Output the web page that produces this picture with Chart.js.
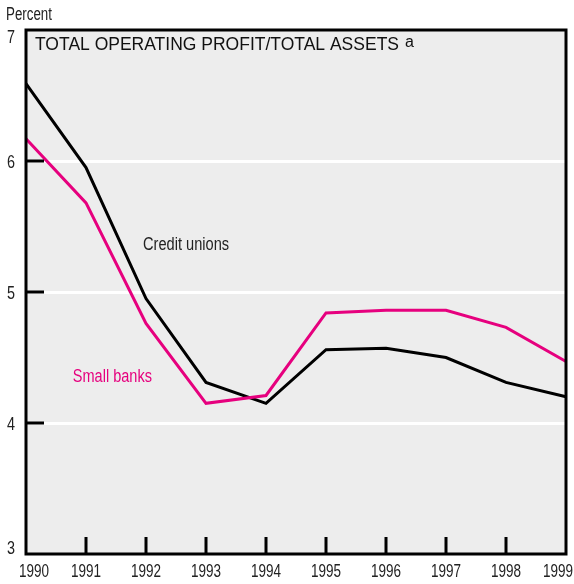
<!DOCTYPE html>
<html>
<head>
<meta charset="utf-8">
<script src="https://cdn.jsdelivr.net/npm/chart.js@4"></script>
<style>
  body { margin: 0; background: #fff; }
  canvas { display: block; }
</style>
</head>
<body>
<canvas id="chart" width="574" height="584"></canvas>
<script>
// --- Data ---
const YEARS = ['1990', '1991', '1992', '1993', '1994', '1995', '1996', '1997', '1998', '1999'];
const CREDIT_UNIONS = [6.59, 5.95, 4.95, 4.31, 4.15, 4.56, 4.57, 4.50, 4.31, 4.20];
const SMALL_BANKS = [6.17, 5.68, 4.76, 4.15, 4.21, 4.84, 4.86, 4.86, 4.73, 4.47];
const Y_MIN = 3;
const Y_MAX = 7;

const SANS = '"Liberation Sans", Arial, sans-serif';
const PINK = '#e6007e';
const TEXT = '#222';

// condensed look: no narrow face is installed, so squeeze Liberation Sans
function narrowText(ctx, text, x, y, size, squeeze, align) {
    ctx.save();
    ctx.font = size + 'px ' + SANS;
    ctx.textAlign = 'left';
    const w = ctx.measureText(text).width * squeeze;
    let left = x;
    if (align === 'center') left = x - w / 2;
    if (align === 'right') left = x - w;
    ctx.translate(left, y);
    ctx.scale(squeeze, 1);
    ctx.fillText(text, 0, 0);
    ctx.restore();
    return w;
}

// Background, frame, inner tick marks, tick labels and in-plot text
const decorPlugin = {
    id: 'decor',
    beforeDraw(chart) {
        const { ctx, chartArea: a } = chart;
        ctx.save();
        ctx.fillStyle = '#ededed';
        ctx.fillRect(a.left, a.top, a.right - a.left, a.bottom - a.top);
        ctx.restore();
    },
    afterDraw(chart) {
        const { ctx, chartArea: a, scales } = chart;
        const x = scales.x, y = scales.y;
        ctx.save();

        // tick marks pointing into the plot
        ctx.strokeStyle = '#000';
        ctx.lineWidth = 3;
        ctx.beginPath();
        y.ticks.forEach(t => {
            if (t.value <= Y_MIN || t.value >= Y_MAX) return;
            const py = Math.round(y.getPixelForValue(t.value));
            ctx.moveTo(a.left, py);
            ctx.lineTo(a.left + 18, py);
        });
        x.ticks.forEach((t, i) => {
            if (i === 0 || i === x.ticks.length - 1) return;
            const px = Math.round(x.getPixelForTick(i));
            ctx.moveTo(px, a.bottom);
            ctx.lineTo(px, a.bottom - 17);
        });
        ctx.stroke();

        // frame
        ctx.strokeRect(a.left, a.top, a.right - a.left, a.bottom - a.top);

        // tick labels
        ctx.fillStyle = TEXT;
        ctx.textBaseline = 'alphabetic';
        x.ticks.forEach((t, i) => {
            const label = x.getLabelForValue(t.value);
            let cx = x.getPixelForTick(i);
            if (i === 0) cx += 8;
            if (i === x.ticks.length - 1) cx -= 8;
            narrowText(ctx, label, cx, a.bottom + 23, 18.5, 0.73, 'center');
        });
        y.ticks.forEach(t => {
            const py = y.getPixelForValue(t.value);
            let base = py + 6.5;
            if (t.value === Y_MAX) base = py + 13;
            if (t.value === Y_MIN) base = py;
            narrowText(ctx, String(t.value), a.left - 11, base, 18, 0.8, 'right');
        });

        // axis unit
        narrowText(ctx, 'Percent', 6, 20, 18, 0.74, 'left');

        // panel title
        ctx.fillStyle = '#111';
        ctx.font = '17.5px ' + SANS;
        const title = 'TOTAL OPERATING PROFIT/TOTAL ASSETS';
        ctx.fillText(title, a.left + 9, 50);
        const w = ctx.measureText(title).width;
        ctx.font = '16px ' + SANS;
        ctx.fillText('a', a.left + 9 + w + 6, 47);

        // series labels
        ctx.fillStyle = TEXT;
        narrowText(ctx, 'Credit unions', x.getPixelForValue(1.95), y.getPixelForValue(5.32), 17.5, 0.835, 'left');
        ctx.fillStyle = PINK;
        narrowText(ctx, 'Small banks', x.getPixelForValue(0.78), y.getPixelForValue(4.31), 17.5, 0.83, 'left');

        ctx.restore();
    }
};

new Chart(document.getElementById('chart'), {
    type: 'line',
    data: {
        labels: YEARS,
        datasets: [
            {
                label: 'Small banks',
                data: SMALL_BANKS,
                borderColor: PINK,
                borderWidth: 3,
                pointRadius: 0,
                tension: 0,
                fill: false
            },
            {
                label: 'Credit unions',
                data: CREDIT_UNIONS,
                borderColor: '#000',
                borderWidth: 3,
                pointRadius: 0,
                tension: 0,
                fill: false
            }
        ]
    },
    options: {
        responsive: false,
        animation: false,
        devicePixelRatio: 1,
        layout: {
            autoPadding: false,
            padding: { top: 30, right: 8, left: 0, bottom: 0 }
        },
        plugins: {
            legend: { display: false },
            tooltip: { enabled: false }
        },
        scales: {
            x: {
                offset: false,
                border: { display: false },
                grid: { display: false, drawTicks: false },
                ticks: { display: false, autoSkip: false, maxRotation: 0 },
                afterFit(scale) { scale.height = 30; }
            },
            y: {
                min: Y_MIN,
                max: Y_MAX,
                border: { display: false },
                grid: {
                    drawTicks: false,
                    lineWidth: 3,
                    color: ctx => (ctx.tick && ctx.tick.value > Y_MIN && ctx.tick.value < Y_MAX) ? '#ffffff' : 'rgba(0,0,0,0)'
                },
                ticks: { display: false, stepSize: 1 },
                afterFit(scale) { scale.width = 26; }
            }
        }
    },
    plugins: [decorPlugin]
});
</script>
</body>
</html>
